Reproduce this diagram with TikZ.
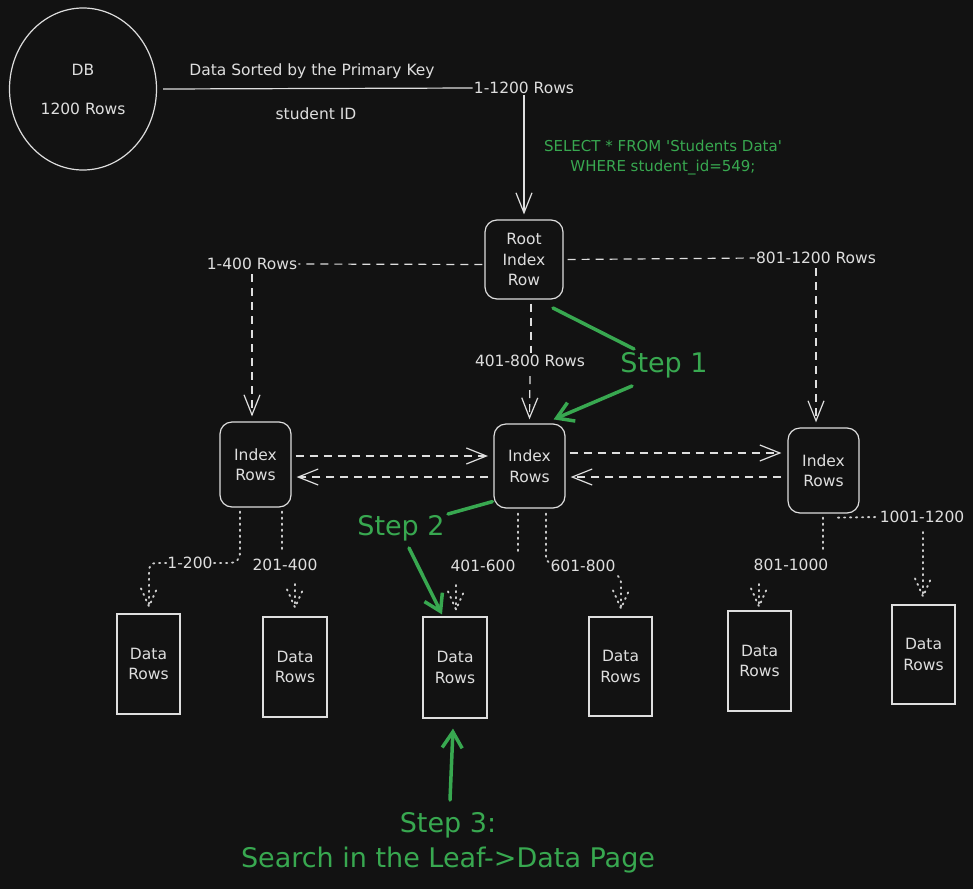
\documentclass[tikz,border=0pt]{standalone}
\usepackage{fontspec}
\setmainfont{DejaVu Sans}
\usetikzlibrary{arrows.meta,calc,shapes.geometric}
\definecolor{bg}{RGB}{18,18,18}
\definecolor{ink}{RGB}{222,222,222}
\definecolor{dotink}{RGB}{205,205,205}
\definecolor{grn}{RGB}{56,168,80}
\newcommand\dottip[1]{\draw[dotln] ($(#1)+(-8,-18)$) -- (#1) -- ($(#1)+(8,-18)$);}
\begin{document}
\begin{tikzpicture}[x=1pt,y=-1pt,
  txt/.style={text=ink, font=\fontsize{15.5}{20.5}\selectfont, inner sep=1pt, align=center},
  gtxt/.style={text=grn, font=\fontsize{27}{35}\selectfont, inner sep=1pt, align=center},
  sqltxt/.style={text=grn, font=\fontsize{15}{20}\selectfont, inner sep=1pt, align=center},
  ibox/.style={txt, draw=ink, line width=1.2pt, rounded corners=12pt, minimum width=71pt, minimum height=85pt},
  dbox/.style={txt, draw=ink, line width=1.2pt, minimum width=63pt, minimum height=100pt},
  wline/.style={draw=ink, line width=1.2pt},
  warrow/.style={wline, -{Straight Barb[length=20pt,width=16pt]}},
  dashln/.style={draw=ink, line width=1.2pt, dash pattern=on 8pt off 6pt},
  dasharrow/.style={dashln, -{Straight Barb[length=20pt,width=16pt]}},
  dotln/.style={draw=dotink, line width=1.9pt, line cap=round, dash pattern=on 1.2pt off 4.8pt},
  gline/.style={draw=grn, line width=3.5pt, line cap=round},
  garrow/.style={gline, -{Straight Barb[length=16pt,width=20pt]}}
]
\fill[bg] (0,0) rectangle (973,889);
\useasboundingbox (0,0) rectangle (973,889);

% DB and top
\node[txt, ellipse, draw=ink, line width=1.2pt, minimum width=147pt, minimum height=162pt, inner sep=0pt] (db) at (83,89) {DB\\[18.5pt]1200 Rows};
\node[txt] (tsort) at (312,71) {Data Sorted by the Primary Key};
\node[txt] (tsid) at (316,114) {student ID};
\node[txt] (l0) at (524,88) {1-1200 Rows};
\node[sqltxt] (sql) at (663,158) {SELECT * FROM \textquotesingle Students Data\textquotesingle\\WHERE student\_id=549;};

% index level
\node[ibox, minimum width=78pt, minimum height=79pt] (root) at (524,259.5) {Root\\Index\\Row};
\node[txt] (lA) at (252,264) {1-400 Rows};
\node[txt] (lB) at (816,258) {801-1200 Rows};
\node[txt] (lC) at (530,361) {401-800 Rows};
\node[ibox] (IL) at (255.5,464.5) {Index\\Rows};
\node[ibox, minimum height=84pt] (IM) at (529.5,466) {Index\\Rows};
\node[ibox] (IR) at (823.5,470.5) {Index\\Rows};

% data pages
\node[dbox] (D1) at (148.5,664) {Data\\Rows};
\node[dbox, minimum width=64pt] (D2) at (295,667) {Data\\Rows};
\node[dbox, minimum width=64pt, minimum height=101pt] (D3) at (455,667.5) {Data\\Rows};
\node[dbox, minimum height=99pt] (D4) at (620.5,666.5) {Data\\Rows};
\node[dbox] (D5) at (759.5,661) {Data\\Rows};
\node[dbox, minimum height=99pt] (D6) at (923.5,654.5) {Data\\Rows};

% range labels
\node[txt] (m1) at (190,563) {1-200};
\node[txt] (m2) at (285,565) {201-400};
\node[txt] (m3) at (483,566) {401-600};
\node[txt] (m4) at (583,566) {601-800};
\node[txt] (m5) at (791,565) {801-1000};
\node[txt] (m6) at (922,517) {1001-1200};

% step labels
\node[gtxt] (s1) at (664,365) {Step 1};
\node[gtxt] (s2) at (401,528) {Step 2};
\node[gtxt] (s3) at (448,843) {Step 3:\\Search in the Leaf->Data Page};

% top connectors
\draw[wline] ($(db.east)+(6,0)$) -- (l0.west);
\draw[warrow] (l0.south) -- ($(root.north)+(0,-5)$);

% root connectors
\coordinate (aL) at (lA.south |- IL.north);
\coordinate (aR) at (lB.south |- IR.north);
\draw[dashln] ($(root.west)+(-2,5)$) -- (lA.east);
\draw[dashln] ($(root.east)+(4,0)$) -- (lB.west);
\draw[dasharrow] ($(lA.south)+(0,3)$) -- ($(aL)+(0,-5)$);
\draw[dasharrow] ($(lB.south)+(0,3)$) -- ($(aR)+(0,-5)$);
\draw[dashln] ($(root.south)+(7,4)$) -- ($(lC.north)+(1,-1)$);
\draw[dasharrow] ($(lC.south)+(0,8)$) -- ($(IM.north)+(0,-4)$);

% sibling links
\draw[dasharrow] ($(IL.east)+(4,-8.5)$) -- ($(IM.west)+(-5.5,-10)$);
\draw[dasharrow] ($(IM.west)+(-5,11)$) -- ($(IL.east)+(5,12.5)$);
\draw[dasharrow] ($(IM.east)+(4,-13)$) -- ($(IR.west)+(-6,-17.5)$);
\draw[dasharrow] ($(IR.west)+(-6,6.5)$) -- ($(IM.east)+(5,11)$);

% leaf pointers (dotted)
\coordinate (t1) at ($(D1.north)+(0.5,-7)$);
\coordinate (t2) at ($(D2.north)+(0,-9)$);
\coordinate (t3) at ($(D3.north)+(1,-7)$);
\coordinate (t4) at ($(D4.north)+(0.5,-8)$);
\coordinate (t5) at ($(D5.north)+(-0.5,-4)$);
\coordinate (t6) at ($(D6.north)+(-0.5,-8)$);

\draw[dotln] ($(IL.south)+(-15.5,4)$) -- (240,552) .. controls (240,560) and (236,563) .. (229,563) -- (m1.east);
\draw[dotln] (m1.west) -- (156,563) .. controls (151,563) and (149,566) .. (149,572) -- (t1);
\dottip{t1}
\draw[dotln] ($(IL.south)+(26.5,4)$) -- ($(IL.south)+(26.5,45)$);
\draw[dotln] ($(m2.south)+(10,12)$) -- (t2);
\dottip{t2}
\draw[dotln] ($(IM.south)+(-11.5,5)$) -- ($(IM.south)+(-11.5,44)$);
\draw[dotln] ($(m3.south)+(-27,12)$) -- (t3);
\dottip{t3}
\draw[dotln] ($(IM.south)+(16.5,5)$) -- (546,556) .. controls (546,560) .. (550,563);
\draw[dotln] (618,576) .. controls (621,580) .. (621,586) -- (t4);
\dottip{t4}
\draw[dotln] ($(IR.south)+(-0.5,4)$) -- ($(IR.south)+(-0.5,39)$);
\draw[dotln] ($(m5.south)+(-32,12)$) -- (t5);
\dottip{t5}
\draw[dotln] ($(IR.south)+(14.5,4)$) -- (m6.west);
\draw[dotln] ($(m6.south)+(1,8)$) -- (t6);
\dottip{t6}

% green steps
\coordinate (g1a) at (553,308);
\coordinate (g1b) at (634,349);
\coordinate (g1c) at (632,386);
\coordinate (g2a) at (448,514);
\coordinate (g2b) at (409,548);
\coordinate (g3a) at (450,800);
\draw[gline] (g1a) -- (g1b);
\draw[garrow] (g1c) -- ($(IM.north east)+(-12,-4)$);
\draw[gline] ($(IM.south west)+(-1,-7)$) -- (g2a);
\draw[garrow] (g2b) -- ($(D3.north)+(-13,-2)$);
\draw[garrow] (g3a) -- ($(D3.south)+(-2,10)$);
\end{tikzpicture}
\end{document}
